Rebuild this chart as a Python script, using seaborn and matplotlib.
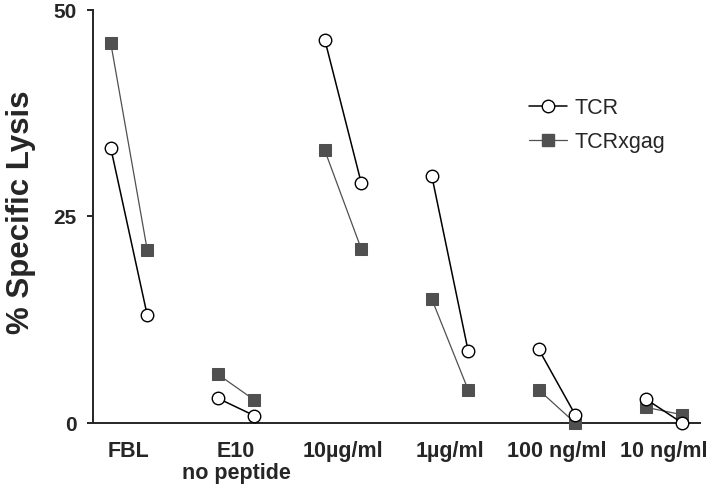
import numpy as np
import pandas as pd
import matplotlib
matplotlib.use('Agg')
import matplotlib.pyplot as plt
from matplotlib.lines import Line2D
import seaborn as sns

# Categories on the x axis (peptide / target)
categories = ['FBL', 'E10\nno peptide', '10\u00b5g/ml', '1\u00b5g/ml', '100 ng/ml', '10 ng/ml']

# % specific lysis at the two effector:target ratios (left point, right point)
tcr_left = [33.3, 3.0, 46.4, 29.9, 8.9, 2.9]
tcr_right = [13.1, 0.9, 29.1, 8.7, 1.0, 0.0]
gag_left = [46.0, 5.9, 33.0, 15.0, 4.0, 1.9]
gag_right = [21.0, 2.8, 21.1, 4.0, 0.0, 1.0]

y_ticks = [0, 25, 50]

# long table for seaborn
rows = []
for i, cat in enumerate(categories):
    rows.append({'cat': i, 'series': 'TCR', 'side': -1, 'lysis': tcr_left[i]})
    rows.append({'cat': i, 'series': 'TCR', 'side': 1, 'lysis': tcr_right[i]})
    rows.append({'cat': i, 'series': 'TCRxgag', 'side': -1, 'lysis': gag_left[i]})
    rows.append({'cat': i, 'series': 'TCRxgag', 'side': 1, 'lysis': gag_right[i]})
df = pd.DataFrame(rows)
df['x'] = df['cat'] + 0.17 * df['side']

sns.set_style('ticks')
plt.rcParams['font.family'] = ['Liberation Sans', 'DejaVu Sans']

fig = plt.figure(figsize=(7.2, 4.86), dpi=100)
ax = fig.add_axes([93 / 720, 63 / 486, 607 / 720, 413 / 486])

gag_color = '#505050'
sns.lineplot(data=df[df['series'] == 'TCRxgag'], x='x', y='lysis', units='cat',
             estimator=None, color=gag_color, linewidth=0.9, marker='s', markersize=8,
             markerfacecolor=gag_color, markeredgecolor=gag_color, clip_on=False,
             zorder=3, legend=False, ax=ax)
sns.lineplot(data=df[df['series'] == 'TCR'], x='x', y='lysis', units='cat',
             estimator=None, color='black', linewidth=1.1, marker='o', markersize=9,
             markerfacecolor='white', markeredgecolor='black', markeredgewidth=1.0,
             clip_on=False, zorder=4, legend=False, ax=ax)

ax.set_xlim(-0.336, 5.336)
ax.set_ylim(0, 50)
ax.set_xticks(range(len(categories)))
ax.set_xticklabels(categories, fontsize=15.5, fontweight='bold', linespacing=1.05)
ax.set_yticks(y_ticks)
ax.set_yticklabels([str(t) for t in y_ticks], fontsize=15, fontweight='bold')
ax.tick_params(axis='x', length=0, pad=13)
ax.tick_params(axis='y', length=4, width=1.4, pad=8)
ax.set_xlabel('')
ax.set_ylabel('')
for side in ['top', 'right']:
    ax.spines[side].set_visible(False)
for side in ['left', 'bottom']:
    ax.spines[side].set_linewidth(1.4)

fig.text(21 / 720, 1 - 212 / 486, '% Specific Lysis', rotation=90, ha='center',
         va='center', fontsize=22.5, fontweight='bold')

handles = [
    Line2D([], [], color='black', linewidth=1.1, marker='o', markersize=9,
           markerfacecolor='white', markeredgecolor='black'),
    Line2D([], [], color=gag_color, linewidth=0.9, marker='s', markersize=8,
           markerfacecolor=gag_color, markeredgecolor=gag_color),
]
fig.legend(handles=handles, labels=['TCR', 'TCRxgag'], loc='upper left',
           bbox_to_anchor=(529 / 720, 1 - 98 / 486), frameon=False, fontsize=15.5,
           borderpad=0, borderaxespad=0, handlelength=1.75, handletextpad=0.35,
           labelspacing=0.6)

fig.savefig('out.png', dpi=100)
